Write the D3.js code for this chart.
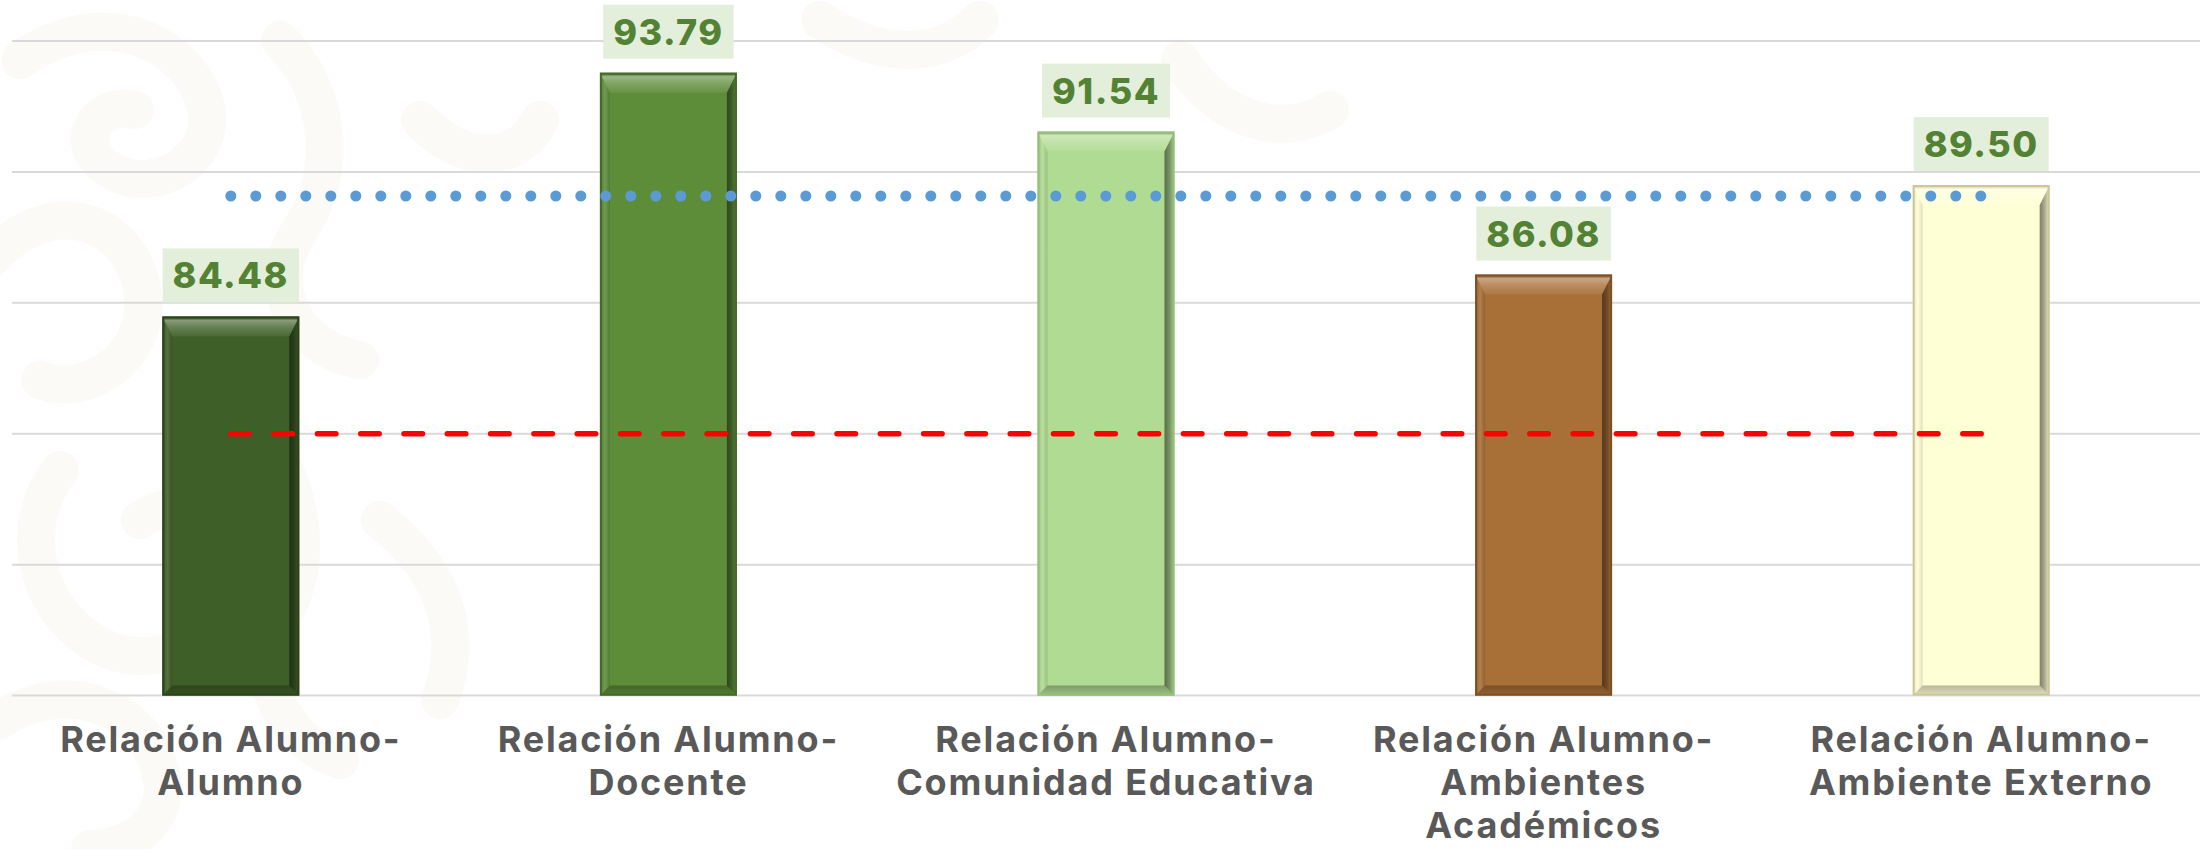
<!DOCTYPE html>
<html>
<head>
<meta charset="utf-8">
<script src="https://cdn.jsdelivr.net/npm/d3@7"></script>
<style>
  html, body { margin: 0; padding: 0; background: #ffffff; }
  svg { display: block; }
</style>
</head>
<body>
<svg id="chart" width="2208" height="849"></svg>
<script>
// ---------------- data ----------------
const categories = [
  "Relación Alumno-Alumno",
  "Relación Alumno-Docente",
  "Relación Alumno-Comunidad Educativa",
  "Relación Alumno-Ambientes Académicos",
  "Relación Alumno-Ambiente Externo"
];
const categoryLines = [
  ["Relación Alumno-", "Alumno"],
  ["Relación Alumno-", "Docente"],
  ["Relación Alumno-", "Comunidad Educativa"],
  ["Relación Alumno-", "Ambientes", "Académicos"],
  ["Relación Alumno-", "Ambiente Externo"]
];
const values = [84.48, 93.79, 91.54, 86.08, 89.50];
const valueLabels = ["84.48", "93.79", "91.54", "86.08", "89.50"];
const targetValues = [80, 80, 80, 80, 80];          // red dashed line
const averageValues = [89.08, 89.08, 89.08, 89.08, 89.08]; // blue dotted line
const gridTicks = [70, 75, 80, 85, 90, 95];
const barColors = ["#3F5F28", "#5E8D3A", "#B0DB93", "#A86F37", "#FFFFD6"];
const barBorders = ["#2C431B", "#45692A", "#93BF77", "#7E5026", "#CFC59A"];

// ---------------- layout ----------------
const W = 2208, H = 849;
const svg = d3.select("#chart");

const x = d3.scaleBand().domain(categories).range([12, 2200]).padding(0);
const y = d3.scaleLinear().domain([70, 95]).range([695.6, 41]);
const barW = x.bandwidth() * 0.313;
const cx = c => x(c) + x.bandwidth() / 2;

// ---------------- faint background watermark ----------------
const wm = svg.append("g").attr("fill", "none").attr("stroke", "#F7F2E8").attr("stroke-opacity", 0.4).attr("stroke-linecap", "round");
const wmPaths = [
  "M20,60 C90,10 170,30 200,90 C230,150 160,200 110,170 C70,145 95,100 135,110",
  "M-10,260 C40,200 120,210 140,280 C160,350 90,400 40,380",
  "M60,470 C20,520 30,600 90,640 C150,680 220,640 230,580 C240,520 180,490 140,520",
  "M0,720 C60,680 140,700 160,770 C175,820 130,849 90,849",
  "M280,40 C330,90 340,170 300,230 C260,290 300,350 360,360",
  "M250,420 C300,470 320,560 280,620 C250,670 280,740 340,760",
  "M420,120 C470,170 520,160 540,120",
  "M380,520 C430,560 470,620 440,700",
  "M820,20 C880,60 940,60 980,20",
  "M1180,60 C1220,120 1280,140 1330,110"
];
wm.selectAll("path").data(wmPaths).join("path")
  .attr("d", d => d)
  .attr("stroke-width", 38);

// ---------------- gridlines ----------------
svg.append("g").selectAll("line").data(gridTicks).join("line")
  .attr("x1", 12).attr("x2", 2200)
  .attr("y1", d => y(d)).attr("y2", d => y(d))
  .attr("stroke", "#D9D9D9").attr("stroke-width", 2);

// ---------------- gradients for bevel ----------------
const defs = svg.append("defs");
const gTop = defs.append("linearGradient").attr("id", "bevTop").attr("x1", 0).attr("y1", 0).attr("x2", 0).attr("y2", 1);
gTop.append("stop").attr("offset", "0%").attr("stop-color", "#000").attr("stop-opacity", 0.15);
gTop.append("stop").attr("offset", "20%").attr("stop-color", "#fff").attr("stop-opacity", 0.38);
gTop.append("stop").attr("offset", "55%").attr("stop-color", "#fff").attr("stop-opacity", 0.2);
gTop.append("stop").attr("offset", "100%").attr("stop-color", "#fff").attr("stop-opacity", 0.06);
const gRight = defs.append("linearGradient").attr("id", "bevRight").attr("x1", 0).attr("y1", 0).attr("x2", 1).attr("y2", 0);
gRight.append("stop").attr("offset", "0%").attr("stop-color", "#000").attr("stop-opacity", 0.5);
gRight.append("stop").attr("offset", "45%").attr("stop-color", "#000").attr("stop-opacity", 0.35);
gRight.append("stop").attr("offset", "100%").attr("stop-color", "#000").attr("stop-opacity", 0.08);
const gLeft = defs.append("linearGradient").attr("id", "bevLeft").attr("x1", 0).attr("y1", 0).attr("x2", 1).attr("y2", 0);
gLeft.append("stop").attr("offset", "0%").attr("stop-color", "#000").attr("stop-opacity", 0.08);
gLeft.append("stop").attr("offset", "50%").attr("stop-color", "#fff").attr("stop-opacity", 0.12);
gLeft.append("stop").attr("offset", "100%").attr("stop-color", "#000").attr("stop-opacity", 0.12);
const gBot = defs.append("linearGradient").attr("id", "bevBot").attr("x1", 0).attr("y1", 0).attr("x2", 0).attr("y2", 1);
gBot.append("stop").attr("offset", "0%").attr("stop-color", "#000").attr("stop-opacity", 0.28);
gBot.append("stop").attr("offset", "100%").attr("stop-color", "#000").attr("stop-opacity", 0.12);

// ---------------- bars ----------------
svg.append("g").selectAll("g").data(categories).join("g")
  .each(function (c, i) {
    const g = d3.select(this);
    const x0 = cx(c) - barW / 2, y0 = y(values[i]), w = barW, h = y(70) - y(values[i]);
    const s = 10, t = 20, b = 10;
    g.append("rect").attr("x", x0).attr("y", y0).attr("width", w).attr("height", h)
      .attr("fill", barColors[i]);
    g.append("polygon").attr("points", [[x0, y0], [x0 + w, y0], [x0 + w - s, y0 + t], [x0 + s, y0 + t]].join(" "))
      .attr("fill", "url(#bevTop)");
    g.append("polygon").attr("points", [[x0, y0], [x0 + s, y0 + t], [x0 + s, y0 + h - b], [x0, y0 + h]].join(" "))
      .attr("fill", "url(#bevLeft)");
    g.append("polygon").attr("points", [[x0 + w - s, y0 + t], [x0 + w, y0], [x0 + w, y0 + h], [x0 + w - s, y0 + h - b]].join(" "))
      .attr("fill", "url(#bevRight)");
    g.append("polygon").attr("points", [[x0 + s, y0 + h - b], [x0 + w - s, y0 + h - b], [x0 + w, y0 + h], [x0, y0 + h]].join(" "))
      .attr("fill", "url(#bevBot)");
    g.append("rect").attr("x", x0 + 1).attr("y", y0 + 1).attr("width", w - 2).attr("height", h - 2)
      .attr("fill", "none").attr("stroke", barBorders[i]).attr("stroke-width", 2);
  });

// ---------------- lines ----------------
const line = d3.line().x((d, i) => cx(categories[i])).y(d => y(d));
svg.append("path").datum(targetValues)
  .attr("d", line).attr("fill", "none")
  .attr("stroke", "#FF0000").attr("stroke-width", 5.5)
  .attr("stroke-linecap", "round").attr("stroke-dasharray", "18.5 24.8");
svg.append("path").datum(averageValues)
  .attr("d", line).attr("fill", "none")
  .attr("stroke", "#5B9BD5").attr("stroke-width", 11)
  .attr("stroke-linecap", "round").attr("stroke-dasharray", "0.01 24.99");

// ---------------- value labels ----------------
const labFont = "Inter, 'Noto Sans', sans-serif";
svg.append("g").selectAll("g").data(categories).join("g")
  .each(function (c, i) {
    const g = d3.select(this);
    const bottom = y(values[i]) - 14;
    const rect = g.append("rect").attr("fill", "#E3EFDA");
    const t = g.append("text")
      .attr("x", cx(c)).attr("y", bottom - 14)
      .attr("text-anchor", "middle")
      .attr("font-family", labFont).attr("font-weight", 800)
      .attr("font-size", 36).attr("letter-spacing", 1.5)
      .attr("fill", "#548235")
      .text(valueLabels[i]);
    const tw = t.node().getComputedTextLength();
    const bw = Math.max(tw + 20, 119);
    rect.attr("x", cx(c) - bw / 2).attr("y", bottom - 54).attr("width", bw).attr("height", 54);
  });

// ---------------- category labels ----------------
const catG = svg.append("g");
categoryLines.forEach((lines, i) => {
  const t = catG.append("text")
    .attr("text-anchor", "middle")
    .attr("font-family", labFont).attr("font-weight", 700)
    .attr("font-size", 36).attr("fill", "#595959")
    .attr("letter-spacing", 1.8);
  lines.forEach((ln, j) => {
    t.append("tspan").attr("x", cx(categories[i])).attr("y", 752 + j * 43).text(ln);
  });
});
</script>
</body>
</html>
